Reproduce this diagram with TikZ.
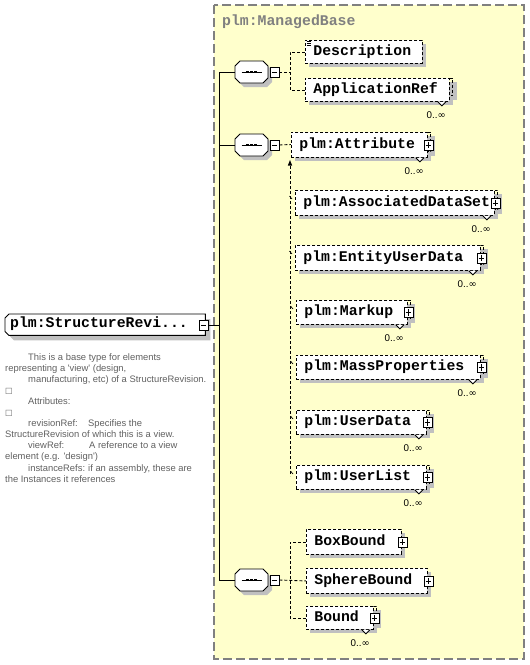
\documentclass[tikz,border=0pt]{standalone}
\usepackage{fontspec}
\setmainfont{Liberation Sans}
\newfontfamily\monofont{Liberation Mono}
\newfontfamily\symfont{DejaVu Sans}
\usetikzlibrary{calc,shadows,backgrounds,arrows.meta}
\definecolor{panelyellow}{RGB}{255,255,204}
\definecolor{panelgray}{RGB}{128,128,128}
\definecolor{shadowgray}{RGB}{192,192,192}
\definecolor{doctext}{RGB}{96,96,96}
\newcommand\elemfont{\monofont\bfseries\fontsize{14.8}{16}\selectfont}
\tikzset{
  elem/.style={rectangle, draw, fill=white, dash pattern=on 3pt off 2pt, line width=0.9pt,
    inner xsep=8pt, inner ysep=0pt, align=left, font=\elemfont,
    text height=9.5pt, text depth=3pt,
    drop shadow={shadow xshift=4pt, shadow yshift=-4pt, fill=shadowgray, opacity=1}},
  elemline/.style={dash pattern=on 3pt off 2pt, line width=0.9pt},
  dconn/.style={dash pattern=on 3pt off 2pt, line width=0.9pt},
  sconn/.style={line width=0.9pt},
  pmbox/.style={rectangle, draw, solid, fill=white, line width=0.8pt,
    minimum width=9pt, minimum height=10pt, inner sep=0pt},
  minusbox/.style={pmbox, path picture={\draw[line width=0.8pt]
    ([xshift=1.8pt]path picture bounding box.west) -- ([xshift=-1.8pt]path picture bounding box.east);}},
  plusbox/.style={pmbox, path picture={\draw[line width=0.8pt]
    ([xshift=1.8pt]path picture bounding box.west) -- ([xshift=-1.8pt]path picture bounding box.east)
    ([yshift=-1.8pt]path picture bounding box.north) -- ([yshift=1.8pt]path picture bounding box.south);}},
  seqbox/.style={rectangle, draw=none, minimum width=33pt, minimum height=22pt, inner sep=0pt},
  mult/.style={anchor=east, inner sep=0pt, font=\fontsize{9.8}{11}\selectfont},
  doc/.style={anchor=base west, inner sep=0pt, text=doctext, font=\fontsize{9.4}{11}\selectfont},
  titlestyle/.style={anchor=base west, inner sep=0pt, text=panelgray, font=\elemfont},
  mainbox/.style={rectangle, draw=none, inner xsep=5pt, inner ysep=0pt, align=left,
    anchor=north west, font=\elemfont, text height=9.5pt, text depth=3pt}
}
\newcommand\octpath{(-11.5,-11) -- (11.5,-11) -- (16.5,-6) -- (16.5,6) -- (11.5,11) -- (-11.5,11) -- (-16.5,6) -- (-16.5,-6) -- cycle}
\newcommand\seqsym[2]{%
  \fill[shadowgray,shift={(255.5,#2+4)}] \octpath;
  \draw[fill=white,line width=0.9pt,shift={(251.5,#2)}] \octpath;
  \node[seqbox] (#1) at (251.5,#2) {};
  \draw[line width=0.9pt,shift={(251.5,#2)}] (-10,0) -- (10,0);
  \foreach \dx in {-4,0,4} {\fill[shift={(251.5,#2)}] (\dx-1.4,-1.4) rectangle (\dx+1.4,1.4);}
  \node[minusbox] (#1m) at (274.5,#2) {};
}
\newcommand\elem[6]{%
  \pgfmathsetmacro\tw{#4-#2-16}%
  \pgfmathsetmacro\th{#5-#3}%
  \node[elem, text width=\tw pt, minimum height=\th pt, anchor=north west] (#1) at (#2,#3) {\mbox{#6}};}
\newcommand\multi[1]{%
  \fill[shadowgray] ($(#1.north east)+(3,4)$) rectangle ($(#1.south east)+(7,-2)$);
  \draw[elemline] (#1.north east) -- ++(3,0) -- ($(#1.south east)+(3,-6)$) -- ($(#1.south east)+(0,-6)$);
  \draw[line width=0.8pt, fill=white] ($(#1.south east)+(-12,0)$) -- ++(4,4) -- ++(4,-4);
  \node[mult] (#1n) at ($(#1.south east)+(-4,13)$) {0..{\symfont ∞}};}
\newcommand\plusat[1]{\node[plusbox] (#1p) at ($(#1.east)+(0.5,0)$) {};}
\newcommand\tick[1]{\draw[line width=0.7pt] ($(#1.north west)+(-5.5,6)$) -- ++(2.5,3);}

\begin{document}
\begin{tikzpicture}[x=1pt,y=-1pt]
\useasboundingbox (0,0) rectangle (530,665);
% panel
\draw[fill=panelyellow, draw=panelgray, line width=1.3pt, dash pattern=on 9pt off 4pt] (214,5) rectangle (524,659);
\node[titlestyle] (title) at (222,25) {plm:ManagedBase};

% main element
\node[mainbox, text width=190pt, minimum height=21pt] (main) at (5,314) {plm:StructureRevi...};
\begin{scope}[on background layer]
  \fill[shadowgray, transform canvas={shift={(5pt,-5pt)}}]
    ($(main.north west)+(4,0)$) -- (main.north east) -- (main.south east) -- ($(main.south west)+(4,0)$)
    -- ($(main.south west)+(0,-4)$) -- ($(main.north west)+(0,4)$) -- cycle;
  \draw[fill=white, line width=0.9pt]
    ($(main.north west)+(4,0)$) -- (main.north east) -- (main.south east) -- ($(main.south west)+(4,0)$)
    -- ($(main.south west)+(0,-4)$) -- ($(main.north west)+(0,4)$) -- cycle;
\end{scope}
\node[minusbox] (mainm) at (203.5,325) {};

% documentation
\node[doc] (d1) at (28,360) {This is a base type for elements};
\node[doc] (d2) at (5,371.1) {representing a \textquotesingle view\textquotesingle{} (design,};
\node[doc] (d3) at (28,382.2) {manufacturing, etc) of a StructureRevision.};
\node[doc] (d4) at (5,393.3) {{\symfont\fontsize{8}{10}\selectfont □}};
\node[doc] (d5) at (28,404.4) {Attributes:};
\node[doc] (d6) at (5,415.5) {{\symfont\fontsize{8}{10}\selectfont □}};
\node[doc] (d7) at (28,426.6) {\makebox[60pt][l]{revisionRef:}Specifies the};
\node[doc] (d8) at (5,437.7) {StructureRevision of which this is a view.};
\node[doc] (d9) at (28,448.8) {\makebox[61pt][l]{viewRef:}A reference to a view};
\node[doc] (d10) at (5,459.9) {element (e.g. \textquotesingle design\textquotesingle)};
\node[doc] (d11) at (28,471) {\makebox[60pt][l]{instanceRefs:}if an assembly, these are};
\node[doc] (d12) at (5,482.1) {the Instances it references};

% sequences
\seqsym{s1}{72}
\seqsym{s2}{145}
\seqsym{s3}{580}
\coordinate (trunk) at (220,325);
\draw[sconn] (s1.west) -- ++(-15,0) |- (s3.west);
\draw[sconn] (s2.west) -- ++(-15,0);
\draw[sconn] (mainm.east) -- (trunk);

% sequence 1
\elem{desc}{305}{40}{422}{63}{Description}
\draw[line width=0.6pt] (306.5,41.5) -- (311,41.5) (306.5,43.2) -- (311,43.2) (306.5,44.9) -- (311,44.9);
\elem{appref}{305}{78}{449}{101}{ApplicationRef}
\multi{appref}
\draw[dconn] (s1m.east) -- ++(11,0);
\draw[dconn] (desc.west) -- ++(-15,0) |- (appref.west);

% sequence 2
\draw[dconn] (290,166) -- (290,476);
\fill (290,160) -- (287.8,165.5) -- (292.2,165.5) -- cycle;
\draw[line width=0.8pt, -{Latex[length=3.5pt,width=3.5pt]}] (291.5,157) -- (297,151.5);
\draw[dconn] (s2m.east) -- (291,144.5);
\elem{attr}{291}{132}{427}{157}{plm:Attribute}
\multi{attr}\plusat{attr}
\elem{assoc}{295}{190}{494}{215}{plm:AssociatedDataSet}
\multi{assoc}\plusat{assoc}\tick{assoc}
\elem{entity}{295}{245}{480}{270}{plm:EntityUserData}
\multi{entity}\plusat{entity}\tick{entity}
\elem{markup}{296}{300}{407}{324}{plm:Markup}
\multi{markup}\plusat{markup}\tick{markup}
\elem{mass}{296}{355}{480}{379}{plm:MassProperties}
\multi{mass}\plusat{mass}\tick{mass}
\elem{udata}{296}{410}{426}{434}{plm:UserData}
\multi{udata}\plusat{udata}\tick{udata}
\elem{ulist}{296}{465}{426}{489}{plm:UserList}
\multi{ulist}\plusat{ulist}\tick{ulist}

% sequence 3
\elem{boxb}{306}{529}{401}{554}{BoxBound}
\plusat{boxb}
\elem{sphere}{306}{568}{427}{593}{SphereBound}
\plusat{sphere}
\elem{bound}{306}{606}{373}{629}{Bound}
\multi{bound}\plusat{bound}
\draw[dconn] (s3m.east) -- (sphere.west);
\draw[dconn] (boxb.west) -- ++(-16,0) |- (bound.west);
\end{tikzpicture}
\end{document}
